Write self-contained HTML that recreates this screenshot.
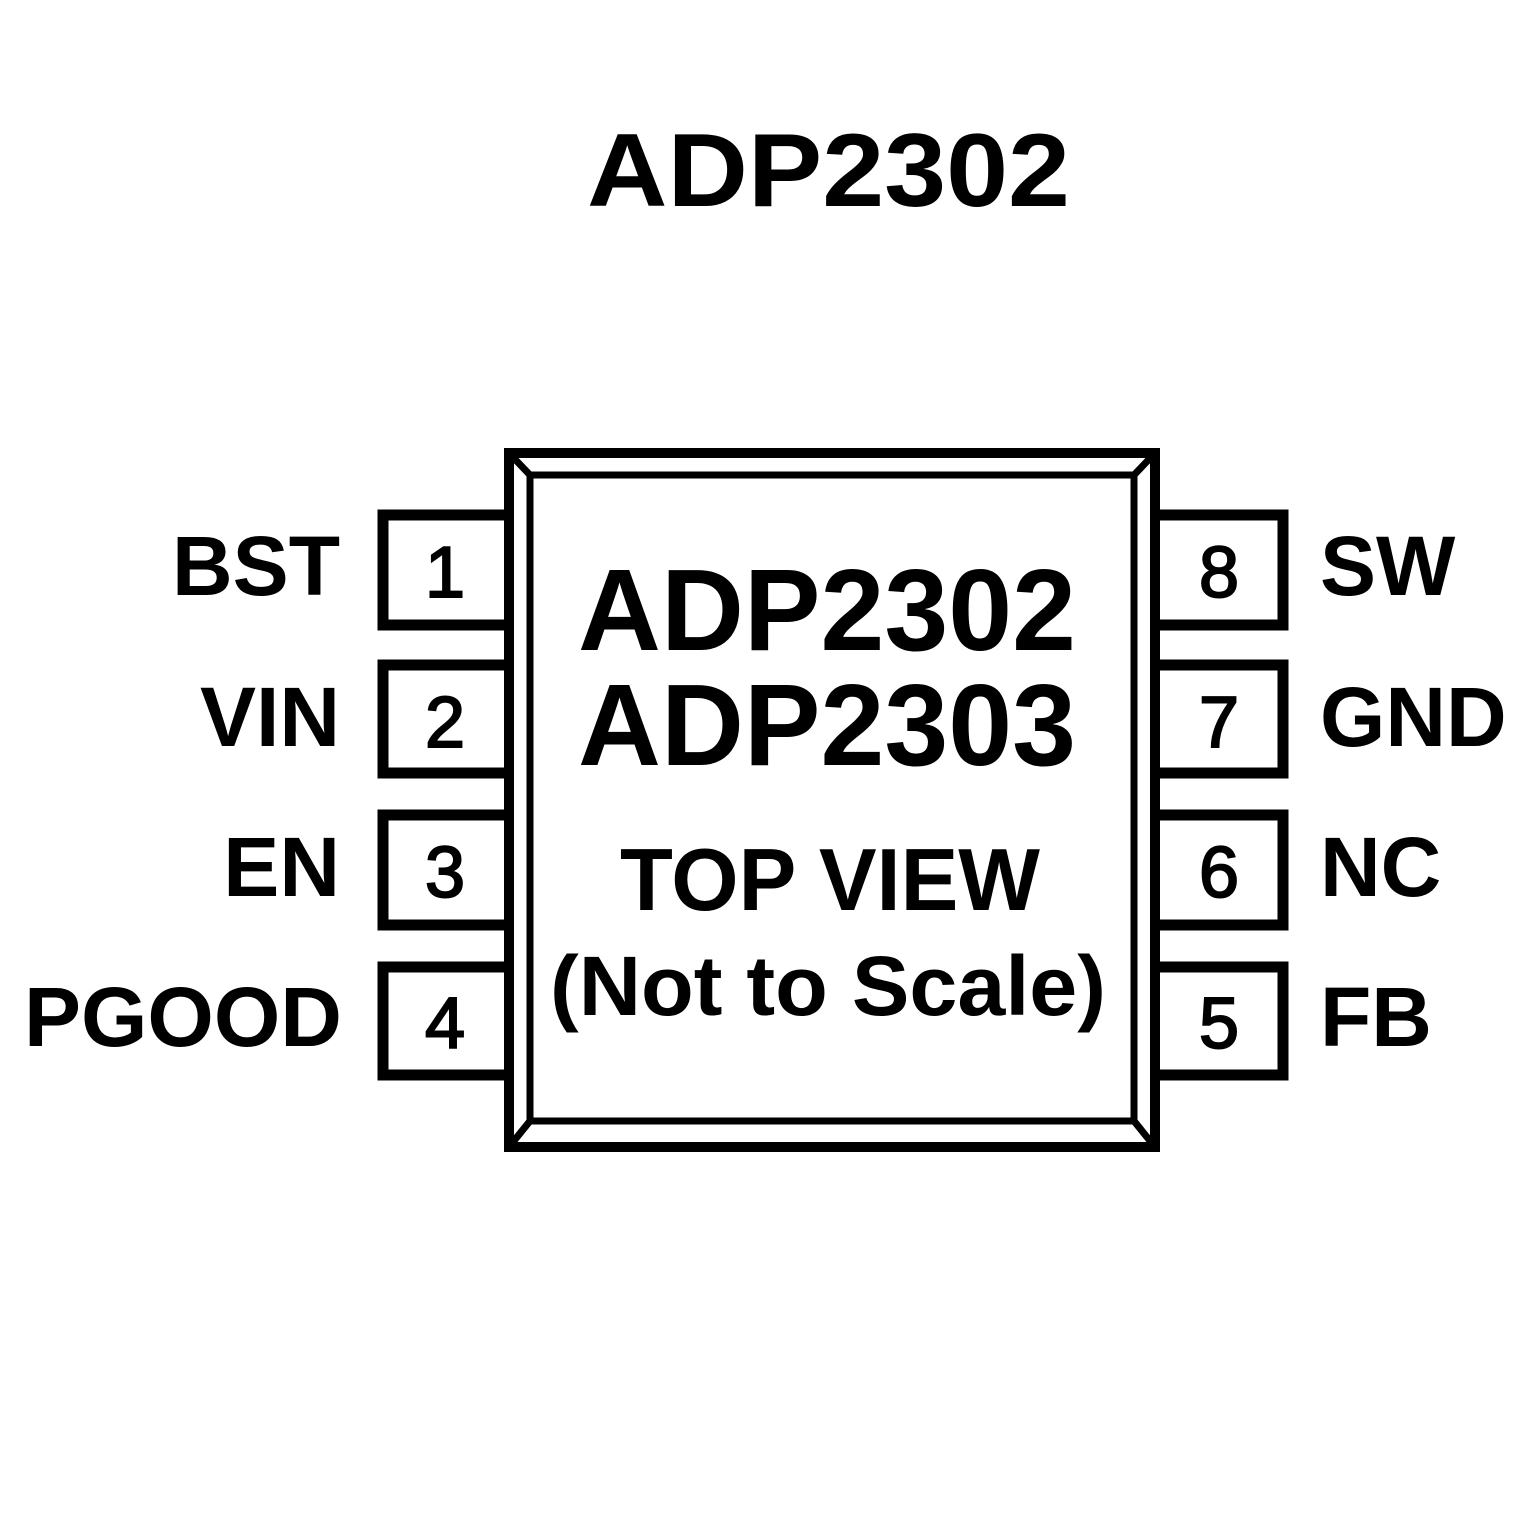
<!DOCTYPE html>
<html><head><style>body{margin:0;background:#fff}svg{display:block}</style></head><body>
<svg width="1535" height="1535" viewBox="0 0 1535 1535" xmlns="http://www.w3.org/2000/svg" font-family="Liberation Sans, Arial, sans-serif" font-weight="bold" fill="#000">
<rect width="1535" height="1535" fill="#fff"/>
<g fill="none" stroke="#000">
<rect x="509" y="453" width="646" height="694" stroke-width="10"/>
<rect x="530" y="475" width="604" height="646" stroke-width="7"/>
<path d="M509 453L530 475M1155 453L1134 475M509 1147L530 1121M1155 1147L1134 1121" stroke-width="7"/>
<g stroke-width="11">
<path d="M505 515H383V625H505"/><path d="M505 665H383V773H505"/><path d="M505 815H383V925H505"/><path d="M505 967H383V1075H505"/>
<path d="M1159 515H1283V625H1159"/><path d="M1159 665H1283V773H1159"/><path d="M1159 815H1283V925H1159"/><path d="M1159 967H1283V1075H1159"/>
</g>
</g>
<text x="587" y="206" font-size="104" textLength="483" lengthAdjust="spacingAndGlyphs">ADP2302</text>
<text x="578" y="650" font-size="116" textLength="498" lengthAdjust="spacingAndGlyphs">ADP2302</text>
<text x="578" y="765" font-size="116" textLength="498" lengthAdjust="spacingAndGlyphs">ADP2303</text>
<text x="620" y="910" font-size="88" textLength="420" lengthAdjust="spacingAndGlyphs">TOP VIEW</text>
<text x="550" y="1015" font-size="84" textLength="556" lengthAdjust="spacingAndGlyphs">(Not to Scale)</text>
<g font-size="84" text-anchor="end">
<text x="340" y="595">BST</text><text x="340" y="746">VIN</text><text x="340" y="896">EN</text><text x="342" y="1046" textLength="318" lengthAdjust="spacingAndGlyphs">PGOOD</text>
</g>
<g font-size="84">
<text x="1320" y="595">SW</text><text x="1320" y="746">GND</text><text x="1320" y="896">NC</text><text x="1320" y="1046">FB</text>
</g>
<g font-size="72" font-weight="normal" text-anchor="middle" stroke="#000" stroke-width="2">
<text x="445" y="597">1</text><text x="445" y="747">2</text><text x="445" y="897">3</text><text x="445" y="1048">4</text>
<text x="1219" y="597">8</text><text x="1219" y="747">7</text><text x="1219" y="897">6</text><text x="1219" y="1048">5</text>
</g>
</svg>
</body></html>
